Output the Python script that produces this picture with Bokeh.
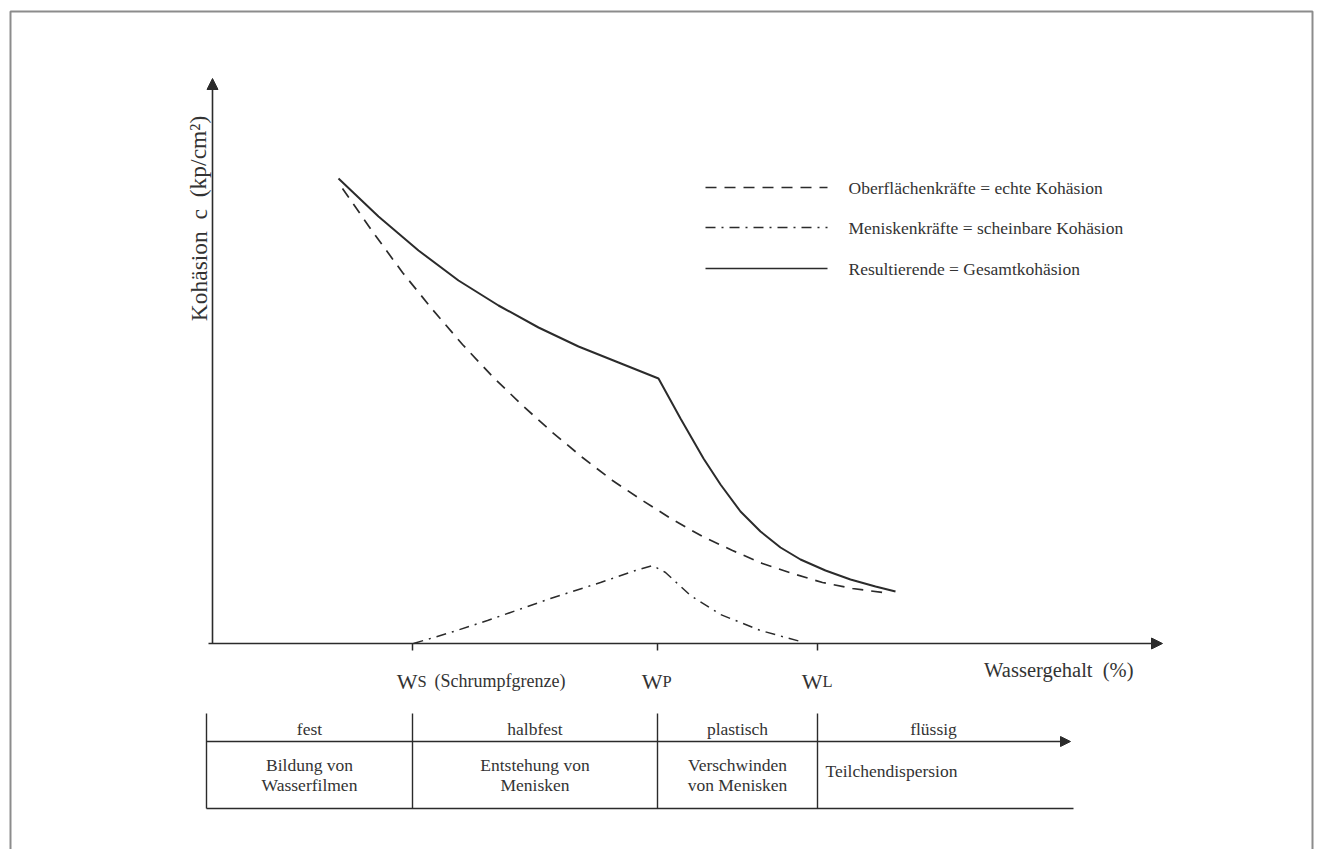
from bokeh.plotting import figure
from bokeh.models import Range1d, Arrow, NormalHead
from bokeh.core.properties import value
from bokeh.embed import file_html
from bokeh.resources import INLINE

# ---------------- data (arbitrary chart units: water content / cohesion) -----------
# Resultierende = Gesamtkohäsion (solid)
total_x = [12.6, 16.6, 20.6, 24.6, 28.6, 32.6, 36.6, 40.6, 44.6,
           46.8, 49.1, 50.8, 52.8, 54.8, 56.8, 58.8, 61.3, 63.8, 66.3, 68.3]
total_y = [46.5, 42.7, 39.3, 36.3, 33.8, 31.6, 29.7, 28.1, 26.5,
           22.5, 18.5, 15.9, 13.2, 11.2, 9.6, 8.4, 7.3, 6.4, 5.7, 5.2]
# Oberflächenkräfte = echte Kohäsion (dashed)
surf_x = [13.0, 16.0, 19.0, 22.0, 25.0, 28.0, 31.0, 34.0, 37.0, 40.0, 43.0, 46.0,
          49.0, 52.0, 55.0, 58.0, 61.0, 64.0, 67.0]
surf_y = [45.5, 41.2, 37.1, 33.4, 29.9, 26.7, 23.8, 21.1, 18.6, 16.3, 14.3, 12.4,
          10.7, 9.3, 8.0, 7.0, 6.1, 5.5, 5.1]
# Meniskenkräfte = scheinbare Kohäsion (dash-dot)
men_x = [20.1, 23.8, 27.5, 33.8, 38.8, 42.3, 44.0, 45.3, 47.8, 50.8, 54.8, 58.8]
men_y = [0.0, 1.1, 2.3, 4.5, 6.1, 7.3, 7.8, 7.1, 4.8, 2.9, 1.3, 0.2]

# consistency limits on the water-content axis
limit_x = [20.0, 44.5, 60.5]
limit_main = ["W", "W", "W"]
limit_sub = ["S", "P", "L"]

legend_labels = ["Oberflächenkräfte = echte Kohäsion",
                 "Meniskenkräfte = scheinbare Kohäsion",
                 "Resultierende = Gesamtkohäsion"]

states = ["fest", "halbfest", "plastisch", "flüssig"]
processes = [["Bildung von", "Wasserfilmen"],
             ["Entstehung von", "Menisken"],
             ["Verschwinden", "von Menisken"],
             ["Teilchendispersion"]]

NB = "\u00a0"  # non-breaking space (keeps the wide gaps in SVG text)
x_title = "Wassergehalt" + NB + NB + "(%)"
y_title = "Kohäsion" + NB + NB + "c" + NB + NB + "(kp/cm²)"

# ---------------- layout helpers (picture pixel -> chart units) -------------------
W, H = 1314, 849
OX, OY, S = 212, 643, 10.0   # pixel position of the origin, px per unit


def X(px):
    return (px - OX) / S


def Y(py):
    return (OY - py) / S


p = figure(width=W, height=H, output_backend="svg", toolbar_location=None,
           x_range=Range1d(X(0), X(W)), y_range=Range1d(Y(H), Y(0)),
           x_axis_location=None, y_axis_location=None, min_border=0)
p.grid.visible = False
p.outline_line_color = None
p.background_fill_color = "white"

INK = "#2b2b2b"
TXT = "#333333"
FONT = value("Liberation Serif")
FS = "17.5px"

# outer frame (scan border)
p.line([X(10), X(10), X(1312), X(1312)], [Y(H), Y(11), Y(11), Y(H)],
       line_color="#8c8c8c", line_width=2)

# axes with arrows
p.add_layout(Arrow(x_start=0, y_start=0, x_end=0, y_end=Y(78),
                   line_color=INK, line_width=1.6,
                   end=NormalHead(size=11, fill_color=INK, line_color=INK)))
p.add_layout(Arrow(x_start=X(208), y_start=0, x_end=X(1162), y_end=0,
                   line_color=INK, line_width=1.6,
                   end=NormalHead(size=11, fill_color=INK, line_color=INK)))

# ticks + labels at limits
p.segment(x0=limit_x, y0=[0] * 3, x1=limit_x, y1=[-0.7] * 3, line_color=INK, line_width=1.5)
p.text(x=[x + 0.5 for x in limit_x], y=[Y(681)] * 3, text=limit_main,
       text_font=FONT, text_font_size="22px", text_color=TXT,
       text_align="right", text_baseline="alphabetic")
p.text(x=[x + 0.5 for x in limit_x], y=[Y(681)] * 3, text=limit_sub,
       text_font=FONT, text_font_size="16.5px", text_color=TXT,
       text_align="left", text_baseline="alphabetic")
p.text(x=[limit_x[0] + 2.2], y=[Y(680)], text=["(Schrumpfgrenze)"],
       text_font=FONT, text_font_size="18px", text_color=TXT,
       text_align="left", text_baseline="alphabetic")

# axis titles
p.text(x=[X(1133)], y=[Y(669)], text=[x_title],
       text_font=FONT, text_font_size="20.5px", text_color=TXT,
       text_align="right", text_baseline="alphabetic")
p.text(x=[X(198)], y=[Y(218)], text=[y_title], angle=1.5708,
       text_font=FONT, text_font_size="23.5px", text_color=TXT,
       text_align="center", text_baseline="alphabetic")

# curves
p.line(surf_x, surf_y, line_color=INK, line_width=1.7, line_dash="11 8")
p.line(men_x, men_y, line_color=INK, line_width=1.5, line_dash="10 6 2 6")
p.line(total_x, total_y, line_color=INK, line_width=2.0)

# legend
leg_y = [Y(187), Y(227), Y(268)]
dashes = ["11 8", "10 6 2 6", "solid"]
for yy, dd, lab in zip(leg_y, dashes, legend_labels):
    p.line([X(705), X(827)], [yy, yy], line_color=INK, line_width=1.7, line_dash=dd)
    p.text(x=[X(848)], y=[yy], text=[lab], text_font=FONT, text_font_size=FS,
           text_color=TXT, text_align="left", text_baseline="middle")

# table below
tb_top, tb_mid, tb_bot = Y(713), Y(741), Y(808)
cols = [X(206)] + limit_x
p.segment(x0=cols, y0=[tb_top] * 4, x1=cols, y1=[tb_bot] * 4, line_color=INK, line_width=1.4)
p.add_layout(Arrow(x_start=cols[0], y_start=tb_mid, x_end=X(1070), y_end=tb_mid,
                   line_color=INK, line_width=1.4,
                   end=NormalHead(size=10, fill_color=INK, line_color=INK)))
p.line([cols[0], X(1073)], [tb_bot, tb_bot], line_color=INK, line_width=1.4)

centers = [(cols[0] + cols[1]) / 2, (cols[1] + cols[2]) / 2, (cols[2] + cols[3]) / 2, X(933)]
p.text(x=centers, y=[Y(728)] * 4, text=states, text_font=FONT, text_font_size=FS,
       text_color=TXT, text_align="center", text_baseline="middle")
for i in range(3):
    p.text(x=[centers[i]] * 2, y=[Y(764), Y(784)], text=processes[i], text_font=FONT,
           text_font_size=FS, text_color=TXT, text_align="center", text_baseline="middle")
p.text(x=[X(825)], y=[Y(770)], text=processes[3], text_font=FONT, text_font_size=FS,
       text_color=TXT, text_align="left", text_baseline="middle")

open("out.html", "w").write(file_html(p, INLINE))
